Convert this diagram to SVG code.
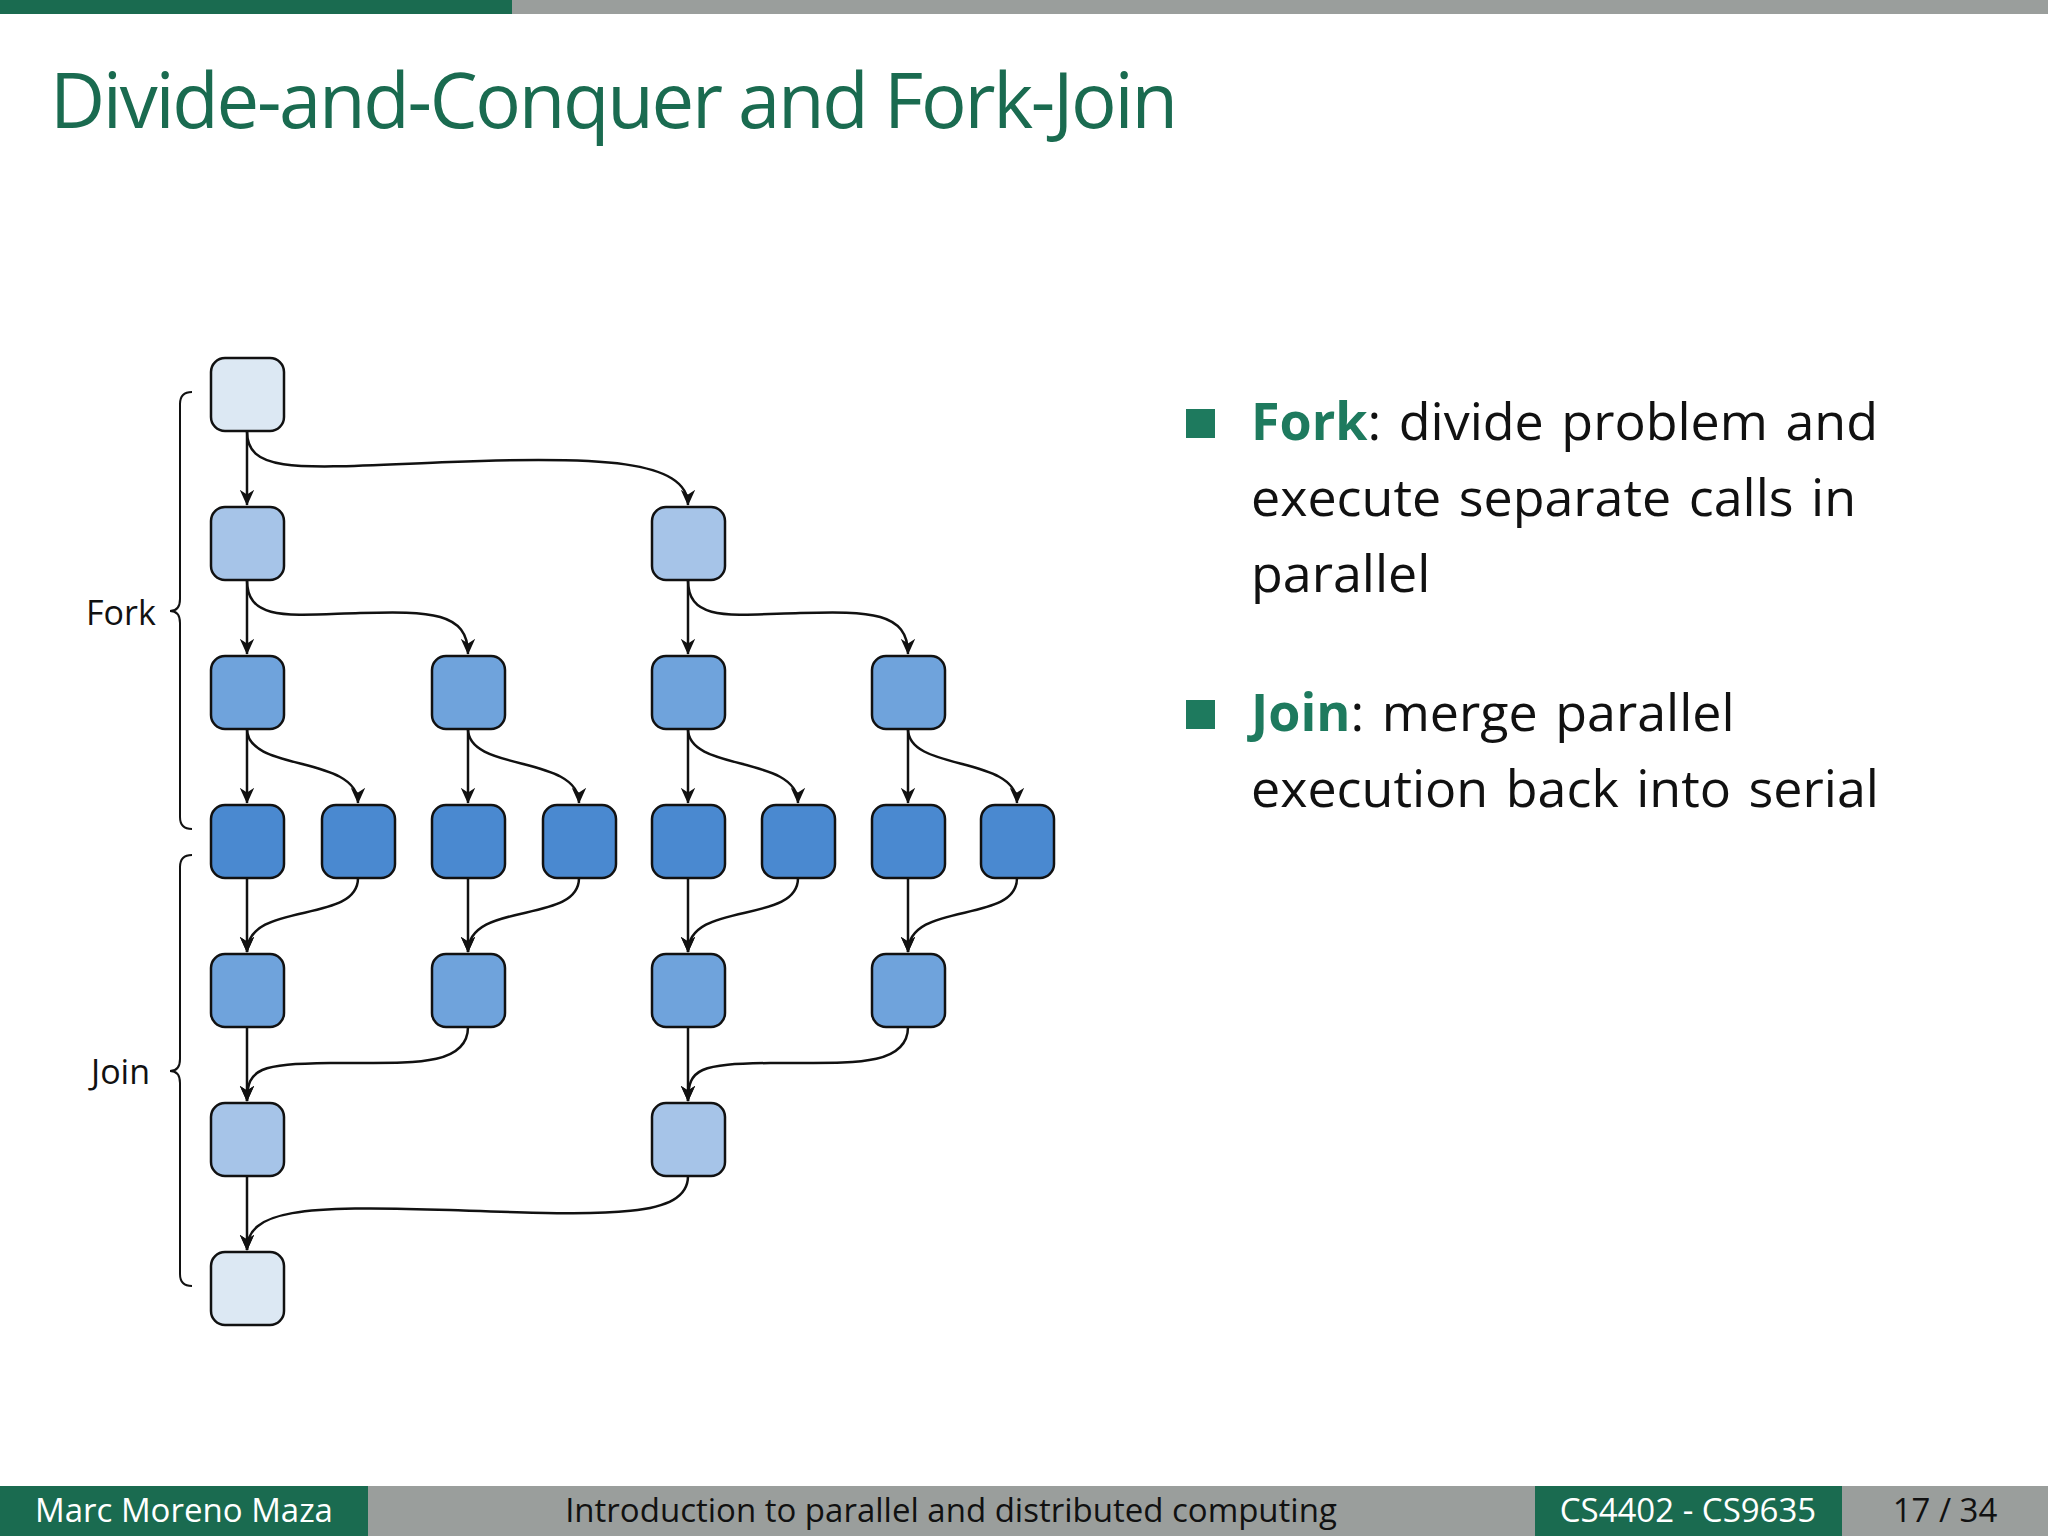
<svg xmlns="http://www.w3.org/2000/svg" width="2048" height="1536" viewBox="0 0 2048 1536">
<style>
text{font-family:"Open Sans","DejaVu Sans",sans-serif}
.n{stroke:#111;stroke-width:2.5}
.c0{fill:#dce8f3}.c1{fill:#a6c4e8}.c2{fill:#6fa3dc}.c3{fill:#4a89d0}
.e{fill:none;stroke:#111;stroke-width:2.5;marker-end:url(#a)}
.b{fill:none;stroke:#111;stroke-width:2}
.t{font-size:52px;fill:#111;word-spacing:4px}
.g{fill:#1e7a5e;font-weight:bold}
.f{font-size:33px}
</style>
<defs>
<marker id="a" viewBox="0 0 10 10" refX="9.5" refY="5" markerWidth="16" markerHeight="16" orient="auto" markerUnits="userSpaceOnUse"><path d="M0,0.5 L10,5 L0,9.5 L3,5 z" fill="#111"/></marker>
</defs>
<rect width="2048" height="1536" fill="#fff"/>
<rect x="0" y="0" width="512" height="14" fill="#1a6b50"/>
<rect x="512" y="0" width="1536" height="14" fill="#9a9e9c"/>
<text x="50" y="128" font-size="76" fill="#1a6b50" textLength="1128">Divide-and-Conquer and Fork-Join</text>

<g id="connectors">
<path class="e" d="M247,431 V505"/><path class="e" d="M247,431 C247,475 300,468 450,462 C600,456 688,460 688,505"/>
<path class="e" d="M247,580 V654"/><path class="e" d="M247,580 C247,622 290,615 360,613 C430,611 468,612 468,654"/>
<path class="e" d="M688,580 V654"/><path class="e" d="M688,580 C688,622 730,615 800,613 C870,611 908,612 908,654"/>
<path class="e" d="M247,729 V803"/><path class="e" d="M247,729 C247,772 358,755 358,803"/>
<path class="e" d="M468,729 V803"/><path class="e" d="M468,729 C468,772 579,755 579,803"/>
<path class="e" d="M688,729 V803"/><path class="e" d="M688,729 C688,772 798,755 798,803"/>
<path class="e" d="M908,729 V803"/><path class="e" d="M908,729 C908,772 1017,755 1017,803"/>
<path class="e" d="M247,878 V952"/><path class="e" d="M358,878 C358,925 247,900 247,952"/>
<path class="e" d="M468,878 V952"/><path class="e" d="M579,878 C579,925 468,900 468,952"/>
<path class="e" d="M688,878 V952"/><path class="e" d="M798,878 C798,925 688,900 688,952"/>
<path class="e" d="M908,878 V952"/><path class="e" d="M1017,878 C1017,925 908,900 908,952"/>
<path class="e" d="M247,1027 V1101"/><path class="e" d="M468,1027 C468,1070 400,1062 330,1063 C260,1064 247,1068 247,1101"/>
<path class="e" d="M688,1027 V1101"/><path class="e" d="M908,1027 C908,1070 840,1062 770,1063 C700,1064 688,1068 688,1101"/>
<path class="e" d="M247,1176 V1250"/><path class="e" d="M688,1176 C688,1220 600,1215 450,1210 C300,1205 247,1210 247,1250"/>
</g>

<g id="nodes">
<rect id="n0" class="n c0" x="211" y="358" width="73" height="73" rx="14"/>
<rect class="n c1" x="211" y="507" width="73" height="73" rx="14"/>
<rect class="n c1" x="652" y="507" width="73" height="73" rx="14"/>
<rect class="n c2" x="211" y="656" width="73" height="73" rx="14"/>
<rect class="n c2" x="432" y="656" width="73" height="73" rx="14"/>
<rect class="n c2" x="652" y="656" width="73" height="73" rx="14"/>
<rect class="n c2" x="872" y="656" width="73" height="73" rx="14"/>
<rect class="n c3" x="211" y="805" width="73" height="73" rx="14"/>
<rect class="n c3" x="322" y="805" width="73" height="73" rx="14"/>
<rect class="n c3" x="432" y="805" width="73" height="73" rx="14"/>
<rect class="n c3" x="543" y="805" width="73" height="73" rx="14"/>
<rect class="n c3" x="652" y="805" width="73" height="73" rx="14"/>
<rect class="n c3" x="762" y="805" width="73" height="73" rx="14"/>
<rect class="n c3" x="872" y="805" width="73" height="73" rx="14"/>
<rect class="n c3" x="981" y="805" width="73" height="73" rx="14"/>
<rect class="n c2" x="211" y="954" width="73" height="73" rx="14"/>
<rect class="n c2" x="432" y="954" width="73" height="73" rx="14"/>
<rect class="n c2" x="652" y="954" width="73" height="73" rx="14"/>
<rect class="n c2" x="872" y="954" width="73" height="73" rx="14"/>
<rect class="n c1" x="211" y="1103" width="73" height="73" rx="14"/>
<rect class="n c1" x="652" y="1103" width="73" height="73" rx="14"/>
<rect class="n c0" x="211" y="1252" width="73" height="73" rx="14"/>
</g>

<g id="braces">
<path class="b" d="M192,392 Q180,392 180,404 V599 Q180,611 170,611 Q180,611 180,623 V817 Q180,829 192,829"/>
<path class="b" d="M192,855 Q180,855 180,867 V1059 Q180,1071 170,1071 Q180,1071 180,1083 V1274 Q180,1286 192,1286"/>
<text x="86" y="625" font-size="34" fill="#111">Fork</text>
<text x="91" y="1084" font-size="34" fill="#111">Join</text>
</g>

<g id="bullets">
<rect x="1186" y="409" width="29" height="29" fill="#1e7a5e"/>
<text class="t" x="1251" y="440"><tspan class="g">Fork</tspan>:  divide problem and</text>
<text class="t" x="1251" y="516">execute separate calls in</text>
<text class="t" x="1251" y="592">parallel</text>
<rect x="1186" y="700" width="29" height="29" fill="#1e7a5e"/>
<text class="t" x="1251" y="731"><tspan class="g">Join</tspan>:  merge parallel</text>
<text class="t" x="1251" y="807">execution back into serial</text>
</g>

<g id="footer">
<rect x="0" y="1486" width="368" height="50" fill="#1a6b50"/>
<rect x="368" y="1486" width="1167" height="50" fill="#9a9e9c"/>
<rect x="1535" y="1486" width="307" height="50" fill="#1a6b50"/>
<rect x="1842" y="1486" width="206" height="50" fill="#9a9e9c"/>
<text class="f" x="184" y="1522" text-anchor="middle" fill="#fff">Marc Moreno Maza</text>
<text class="f" x="951" y="1522" text-anchor="middle" fill="#111">Introduction to parallel and distributed computing</text>
<text class="f" x="1688" y="1522" text-anchor="middle" fill="#fff">CS4402 - CS9635</text>
<text class="f" x="1945" y="1522" text-anchor="middle" fill="#111">17 / 34</text>
</g>
</svg>
